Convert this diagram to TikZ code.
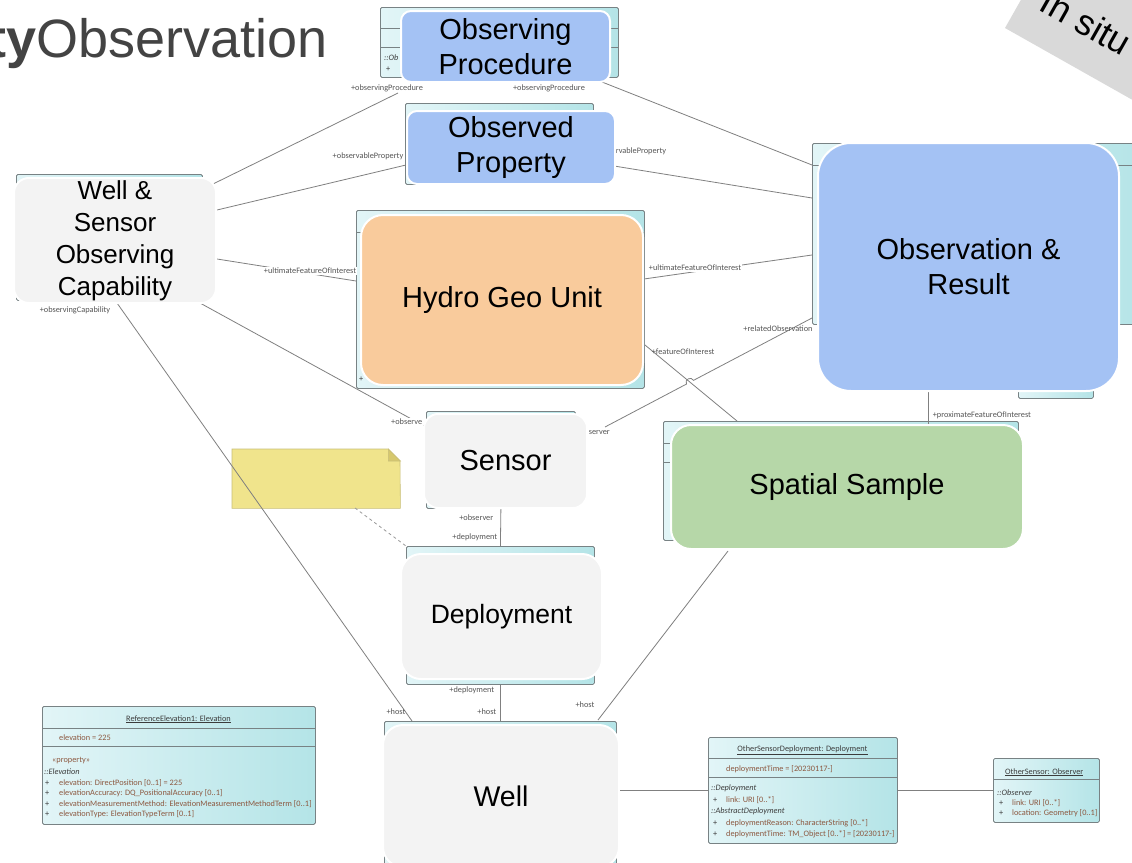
\documentclass[tikz,border=0pt]{standalone}
\usepackage{fontspec}
\setmainfont{Liberation Sans}
\newfontfamily\cbf{Carlito}
\usetikzlibrary{calc}
\definecolor{obsblue}{RGB}{164,194,244}
\definecolor{hgorange}{RGB}{249,203,156}
\definecolor{ssgreen}{RGB}{182,215,168}
\definecolor{lgray}{RGB}{243,243,243}
\definecolor{umlL}{RGB}{226,245,247}
\definecolor{umlR}{RGB}{180,228,231}
\definecolor{umlborder}{RGB}{120,130,132}
\definecolor{conngray}{RGB}{128,128,128}
\definecolor{tagc}{RGB}{85,85,85}
\definecolor{notey}{RGB}{240,228,140}
\definecolor{notefold}{RGB}{214,200,110}
\definecolor{noteb}{RGB}{200,190,120}
\definecolor{bandg}{RGB}{217,217,217}
\definecolor{titleg}{RGB}{67,67,67}
\definecolor{attrc}{RGB}{140,88,64}
\definecolor{hdrc}{RGB}{60,60,60}
\newcommand\tagfont{\cbf\fontsize{8.3}{10}\selectfont}
\tikzset{
  uml/.style={draw=umlborder, line width=0.8pt, rounded corners=1.5pt, left color=umlL, right color=umlR, anchor=north west, inner sep=0pt},
  umlsep/.style={draw=umlborder, line width=0.6pt},
  mainbox/.style={draw=white, line width=2pt, anchor=north west, inner sep=0pt, align=center, text=black},
  tag/.style={font=\tagfont, text=tagc, inner sep=0.6pt},
  conn/.style={draw=conngray, line width=0.8pt},
  ut/.style={font=\tagfont, inner sep=0pt, anchor=base west, text=attrc},
  uh/.style={font=\tagfont, inner sep=0pt, anchor=base west, text=hdrc},
  ui/.style={font=\tagfont\itshape, inner sep=0pt, anchor=base west, text=hdrc},
}
\begin{document}
\begin{tikzpicture}[x=1pt,y=-1pt]
\useasboundingbox (0,0) rectangle (1132,862);
\clip (0,0) rectangle (1132,862);
\fill[white] (0,0) rectangle (1132,862);

% "In situ" band
\fill[bandg] (1005,28) -- (1022,-2) -- (1200,-2) -- (1200,138) -- cycle;
\node[rotate=-29.5, font=\fontsize{36}{40}\selectfont, text=black, inner sep=0pt] (insitu) at (1086,22) {In situ};

% title
\node[anchor=base east, inner sep=0pt, text=titleg, font=\fontsize{54}{60}\selectfont] (title) at (328,57) {\textbf{ty}Observation};

% UML boxes behind the labels
\node[uml, minimum width=238, minimum height=70] (opU) at (380,7) {};
\draw[umlsep] (380,28) -- (618,28) (380,47) -- (618,47);
\node[ui] at (384,60) {::Ob};
\node[uh] at (386,71) {+};
\node[uml, minimum width=188, minimum height=81] (ppU) at (405,103) {};
\node[uml, minimum width=186, minimum height=126] (wsU) at (16,174) {};
\node[uml, minimum width=288, minimum height=178] (hgU) at (356,210) {};
\draw[umlsep] (356,232) -- (644,232);
\node[uh] at (359,381) {+};
\node[uml, minimum width=340, minimum height=181] (orU) at (812,143) {};
\draw[umlsep] (812,165) -- (1152,165);
\node[uml, minimum width=75, minimum height=68] (orU2) at (1018,330) {};
\node[uml, minimum width=149, minimum height=97] (snU) at (426,411) {};
\node[uml, minimum width=355, minimum height=119] (ssU) at (663,421) {};
\draw[umlsep] (663,443) -- (1018,443) (663,462) -- (1018,462);
\node[uml, minimum width=188, minimum height=138] (dpU) at (406,546) {};
\node[uml, minimum width=232, minimum height=150] (wlU) at (384,721) {};

% note
\node[draw=none, minimum width=168, minimum height=59, anchor=north west, inner sep=0pt] (note) at (232,449) {};
\draw[noteb, fill=notey, line width=0.6pt] (note.north west) -- ++(156,0) -- ++(12,12) -- (note.south east) -- (note.south west) -- cycle;
\draw[noteb, fill=notefold, line width=0.6pt] ($(note.north east)+(-12,0)$) -- ++(0,12) -- ++(12,0) -- cycle;

% connector end points
\coordinate (ws-op) at (213,184);   \coordinate (op-ws) at (398,93);
\coordinate (op-or) at (602,82);    \coordinate (or-op) at (812,165);
\coordinate (ws-pp) at (217,210);   \coordinate (pp-ws) at (406,165);
\coordinate (pp-or) at (614,166);   \coordinate (or-pp) at (812,198);
\coordinate (ws-hg) at (217,259);   \coordinate (hg-ws) at (356,281);
\coordinate (hg-or) at (644,279);   \coordinate (or-hg) at (812,255);
\coordinate (ws-sn) at (200,303);   \coordinate (sn-ws) at (426,427);
\coordinate (ws-wl) at (117,303);   \coordinate (wl-ws) at (412,721);
\coordinate (sn-or) at (605,427);   \coordinate (or-sn) at (812,318);
\coordinate (hg-ss) at (645,345);   \coordinate (ss-hg) at (737,421);
\coordinate (or-ss) at (928,390);   \coordinate (ss-or) at (928,424);
\coordinate (ss-wl) at (728,551);   \coordinate (wl-ss) at (598,720);
\coordinate (nt-dp) at (355,508);   \coordinate (dp-nt) at (406,546);

\draw[conn] (ws-op) -- (op-ws);
\draw[conn] (op-or) -- (or-op);
\draw[conn] (ws-pp) -- (pp-ws);
\draw[conn] (pp-or) -- (or-pp);
\draw[conn] (ws-hg) -- (hg-ws);
\draw[conn] (hg-or) -- (or-hg);
\draw[conn] (ws-sn) -- (sn-ws);
\draw[conn] (ws-wl) -- (wl-ws);
\draw[conn] (hg-ss) -- (ss-hg);
\draw[conn] (sn-or) -- (686.46,384.06) .. controls (684.13,379.6) and (691.2,375.9) .. (693.54,380.34) -- (or-sn);
\draw[conn] (or-ss) -- (ss-or);
\draw[conn] (snU.south) -- (dpU.north);
\draw[conn] (dpU.south) -- (wlU.north);
\draw[conn] (ss-wl) -- (wl-ss);
\draw[conn, dashed, draw=conngray!80] (nt-dp) -- (dp-nt);

% role labels
\node[tag] (t1) at (387,88) {+observingProcedure};
\node[tag] (t2) at (549,88) {+observingProcedure};
\node[tag] (t3) at (368,156) {+observableProperty};
\node[tag, anchor=west] (t4) at (615,151) {rvableProperty};
\node[tag, fill=white] (t5) at (310,271) {+ultimateFeatureOfInterest};
\node[tag, fill=white] (t6) at (695,268) {+ultimateFeatureOfInterest};
\node[tag] (t7) at (75,310) {+observingCapability};
\node[tag, fill=white, anchor=east] (t8) at (423,422) {+observe};
\node[tag] (t9) at (396,712) {+host};
\node[tag, anchor=west] (t10) at (588,433) {server};
\node[tag] (t11) at (778,329) {+relatedObservation};
\node[tag, anchor=west] (t12) at (651,352) {+featureOfInterest};
\node[tag, anchor=west] (t13) at (932,415) {+proximateFeatureOfInterest};
\node[tag, anchor=east] (t14) at (494,518) {+observer};
\node[tag, anchor=east] (t15) at (498,537) {+deployment};
\node[tag, anchor=east] (t16) at (495,690) {+deployment};
\node[tag, anchor=east] (t17) at (497,712) {+host};
\node[tag] (t18) at (585,705) {+host};

% main labelled boxes
\node[mainbox, fill=obsblue, rounded corners=10pt, minimum width=209, minimum height=71, font=\fontsize{29}{35}\selectfont] (opL) at (400,10) {Observing\\Procedure};
\node[mainbox, fill=obsblue, rounded corners=10pt, minimum width=208, minimum height=73, font=\fontsize{29}{35}\selectfont] (ppL) at (406,110) {Observed\\Property};
\node[mainbox, fill=lgray, rounded corners=15pt, minimum width=202, minimum height=125, font=\fontsize{26}{32}\selectfont] (wsL) at (13,177) {Well \&\\Sensor\\Observing\\Capability};
\node[mainbox, fill=hgorange, rounded corners=22pt, minimum width=282, minimum height=170, font=\fontsize{29}{35}\selectfont] (hgL) at (360,214) {Hydro Geo Unit};
\node[mainbox, fill=obsblue, rounded corners=33pt, minimum width=301, minimum height=248, font=\fontsize{29}{35}\selectfont] (orL) at (817,142) {Observation \&\\Result};
\node[mainbox, fill=lgray, rounded corners=14pt, minimum width=163, minimum height=94, font=\fontsize{29}{35}\selectfont] (snL) at (423,413) {Sensor};
\node[mainbox, fill=ssgreen, rounded corners=20pt, minimum width=352, minimum height=124, font=\fontsize{29}{35}\selectfont] (ssL) at (670,424) {Spatial Sample};
\node[mainbox, fill=lgray, rounded corners=20pt, minimum width=201, minimum height=125, font=\fontsize{26.5}{32}\selectfont] (dpL) at (400,553) {Deployment};
\node[mainbox, fill=lgray, rounded corners=20pt, minimum width=236, minimum height=142, font=\fontsize{28.5}{34}\selectfont] (wlL) at (382,724) {Well};

% bottom UML instances
\node[uml, minimum width=273, minimum height=118] (refU) at (42,706) {};
\draw[umlsep] (42,728) -- (315,728) (42,746) -- (315,746);
\node[uh, anchor=base] at (178.5,721) {\underline{ReferenceElevation1: Elevation}};
\node[ut] at (59,740) {elevation = 225};
\node[ut] at (52,762) {«property»};
\node[ui] at (44,774) {::Elevation};
\node[uh] at (45,785) {+}; \node[ut] at (59,785) {elevation: DirectPosition [0..1] = 225};
\node[uh] at (45,795.5) {+}; \node[ut] at (59,795.5) {elevationAccuracy: DQ\_PositionalAccuracy [0..1]};
\node[uh] at (45,806) {+}; \node[ut] at (59,806) {elevationMeasurementMethod: ElevationMeasurementMethodTerm [0..1]};
\node[uh] at (45,816.5) {+}; \node[ut] at (59,816.5) {elevationType: ElevationTypeTerm [0..1]};

\node[uml, minimum width=189, minimum height=106] (osd) at (708,737) {};
\draw[umlsep] (708,758) -- (897,758) (708,777) -- (897,777);
\node[uh, anchor=base] at (802.5,751) {\underline{OtherSensorDeployment: Deployment}};
\node[ut] at (726,771) {deploymentTime = [20230117-]};
\node[ui] at (711,790) {::Deployment};
\node[uh] at (713,802) {+}; \node[ut] at (726,802) {link: URI [0..*]};
\node[ui] at (711,813) {::AbstractDeployment};
\node[uh] at (713,825.5) {+}; \node[ut] at (726,825.5) {deploymentReason: CharacterString [0..*]};
\node[uh] at (713,836) {+}; \node[ut] at (726,836) {deploymentTime: TM\_Object [0..*] = [20230117-]};

\node[uml, minimum width=106, minimum height=64] (osn) at (993,758) {};
\draw[umlsep] (993,779) -- (1099,779);
\node[uh] at (1005,774) {\underline{OtherSensor: Observer}};
\node[ui] at (997,795) {::Observer};
\node[uh] at (999,805) {+}; \node[ut] at (1012,805) {link: URI [0..*]};
\node[uh] at (999,815.5) {+}; \node[ut] at (1012,815.5) {location: Geometry [0..1]};

\draw[conn] (osd.west -| wlL.east) -- (osd.west);
\draw[conn] (osd.east) -- (osn.west);
\end{tikzpicture}
\end{document}
